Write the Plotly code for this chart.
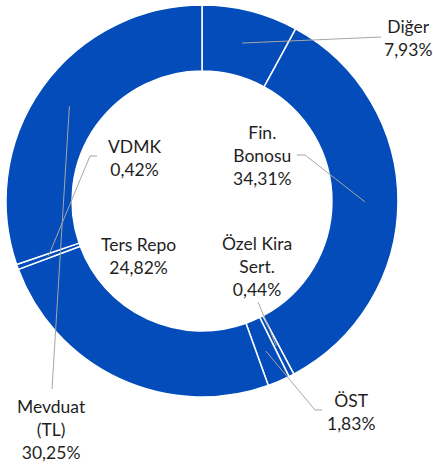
import math
import plotly.graph_objects as go

# ---- data ----
categories = ["Diğer", "Fin. Bonosu", "Özel Kira Sert.", "ÖST", "Ters Repo", "VDMK", "Mevduat (TL)"]
display_labels = ["Diğer", "Fin.<br>Bonosu", "Özel Kira<br>Sert.", "ÖST", "Ters Repo", "VDMK", "Mevduat<br>(TL)"]
shares = [7.93, 34.31, 0.44, 1.83, 24.82, 0.42, 30.25]

W, H = 433, 468
BLUE = "#034CB9"
TEXT = "#1F1F1F"
LINE = "#A6A6A6"

# pie geometry (pixels)
cx, cy, R = 202, 201, 196
hole = 0.663
r_mid = R * (1 + hole) / 2

def px(x):
    return x / W

def py(y):
    return 1 - y / H

fig = go.Figure(go.Pie(
    labels=categories,
    values=shares,
    sort=False,
    direction="clockwise",
    rotation=0,
    hole=hole,
    marker=dict(colors=[BLUE] * len(shares), line=dict(color="white", width=1.5)),
    textinfo="none",
    hoverinfo="label+percent",
    showlegend=False,
    domain=dict(x=[px(cx - R), px(cx + R)], y=[py(cy + R), py(cy - R)]),
))

# label layout: center position (px) and leader line start points (px), None = no leader
label_pos = {
    "Diğer": (408, 38),
    "Fin. Bonosu": (262, 156),
    "Özel Kira Sert.": (257, 266),
    "ÖST": (351, 412),
    "Ters Repo": (138, 256),
    "VDMK": (134, 158),
    "Mevduat (TL)": (51, 429),
}
leader_start = {
    "Diğer": [(381, 37)],
    "Fin. Bonosu": [(297, 155), (305, 155)],
    "Özel Kira Sert.": [(258, 302)],
    "ÖST": [(322, 410), (315, 410)],
    "Ters Repo": None,
    "VDMK": [(97, 156), (90, 156)],
    "Mevduat (TL)": [(52, 389)],
}

total = sum(shares)
cum = 0.0
annotations = []
shapes = []
for cat, lab, v in zip(categories, display_labels, shares):
    mid = (cum + v / 2) / total * 2 * math.pi
    cum += v
    ax = cx + r_mid * math.sin(mid)
    ay = cy - r_mid * math.cos(mid)
    lx, ly = label_pos[cat]
    annotations.append(dict(
        x=px(lx), y=py(ly), xref="paper", yref="paper",
        text=f"{lab}<br>{v:.2f}%".replace(".", ",").replace("Fin,", "Fin.").replace("Sert,", "Sert."),
        showarrow=False, align="center", xanchor="center", yanchor="middle",
        font=dict(family="Lato, Open Sans, sans-serif", size=17.5, color=TEXT),
    ))
    pts = leader_start[cat]
    if pts:
        path = "M " + " L ".join(f"{px(x)},{py(y)}" for x, y in pts) + f" L {px(ax)},{py(ay)}"
        shapes.append(dict(type="path", path=path, xref="paper", yref="paper",
                           line=dict(color=LINE, width=1)))

fig.update_layout(
    width=W, height=H,
    margin=dict(l=0, r=0, t=0, b=0),
    paper_bgcolor="white", plot_bgcolor="white",
    annotations=annotations,
    shapes=shapes,
)

fig.write_html("out.html", config={"displayModeBar": False},
               post_script="document.body.style.margin='0';document.body.style.overflow='hidden';")
